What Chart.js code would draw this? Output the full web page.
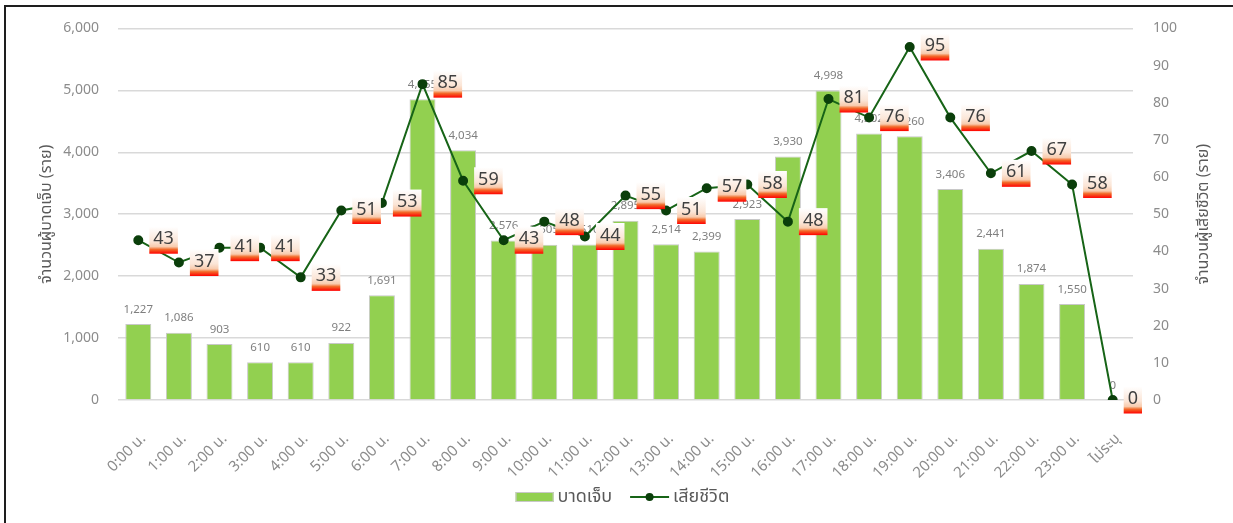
<!DOCTYPE html>
<html>
<head>
<meta charset="utf-8">
<script src="https://cdn.jsdelivr.net/npm/chart.js@4/dist/chart.umd.min.js"></script>
<style>
  html, body { margin: 0; padding: 0; background: #fff; overflow: hidden; }
  #frame { position: absolute; left: 4px; top: 5px; width: 1400px; height: 800px; border: 2px solid #1e1e1e; box-sizing: border-box; }
  #wrap { position: absolute; left: 0; top: 0; width: 1233px; height: 523px; }
</style>
</head>
<body>
<div id="frame"></div>
<div id="wrap"><canvas id="chart"></canvas></div>
<script>
const hours = [
  "0:00 น.", "1:00 น.", "2:00 น.", "3:00 น.", "4:00 น.", "5:00 น.", "6:00 น.", "7:00 น.",
  "8:00 น.", "9:00 น.", "10:00 น.", "11:00 น.", "12:00 น.", "13:00 น.", "14:00 น.", "15:00 น.",
  "16:00 น.", "17:00 น.", "18:00 น.", "19:00 น.", "20:00 น.", "21:00 น.", "22:00 น.", "23:00 น.", "ไม่ระบุ"
];
const injured = [1227, 1086, 903, 610, 610, 922, 1691, 4855, 4034, 2576, 2505, 2510, 2895, 2514, 2399, 2923, 3930, 4998, 4302, 4260, 3406, 2441, 1874, 1550, 0];
const deaths = [43, 37, 41, 41, 33, 51, 53, 85, 59, 43, 48, 44, 55, 51, 57, 58, 48, 81, 76, 95, 76, 61, 67, 58, 0];

const injuredName = "บาดเจ็บ";
const deathsName = "เสียชีวิต";
const leftTitle = "จำนวนผู้บาดเจ็บ (ราย)";
const rightTitle = "จำนวนผู้เสียชีวิต (ราย)";
const injuredMax = 6000, injuredStep = 1000;
const deathsMax = 100, deathsStep = 10;

const FONT = '"Noto Sans", "Noto Sans Thai", Tahoma, sans-serif';
const GRAY = "#8c8c8c";
const BAR_GREEN = "#92d050";
const LINE_GREEN = "#176417";
const POINT_GREEN = "#0b3f0b";

const fmt = (v) => v.toLocaleString("en-US");

// gray value labels above bars, drawn before the line
const barLabels = {
  id: "barLabels",
  afterDatasetDraw(chart, args) {
    if (args.index !== 0) return;
    const ctx = chart.ctx;
    ctx.save();
    ctx.font = "11.5px " + FONT;
    ctx.fillStyle = "#7f7f7f";
    ctx.textAlign = "center";
    ctx.textBaseline = "bottom";
    args.meta.data.forEach((bar, i) => {
      ctx.fillText(fmt(injured[i]), bar.x, bar.y - 9);
    });
    ctx.restore();
  }
};

// boxed labels to the right of each line point
const lineLabels = {
  id: "lineLabels",
  afterDatasetsDraw(chart) {
    const ctx = chart.ctx;
    const meta = chart.getDatasetMeta(1);
    ctx.save();
    ctx.font = "18px " + FONT;
    meta.data.forEach((pt, i) => {
      const txt = String(deaths[i]);
      const w = ctx.measureText(txt).width + 8;
      const h = 27;
      const x0 = pt.x + 11;
      const y0 = pt.y - h / 2;
      const g = ctx.createLinearGradient(0, y0, 0, y0 + h);
      g.addColorStop(0, "#ffffff");
      g.addColorStop(0.55, "#fbe5d6");
      g.addColorStop(0.74, "#f8cbad");
      g.addColorStop(0.84, "#f26b2a");
      g.addColorStop(1, "#ff0000");
      ctx.fillStyle = g;
      ctx.fillRect(x0, y0, w, h);
      ctx.fillStyle = "#404040";
      ctx.textAlign = "center";
      ctx.textBaseline = "middle";
      ctx.fillText(txt, x0 + w / 2, pt.y - 1);
    });
    ctx.restore();
  }
};

// right axis title reads bottom-to-top, like the left one
const rightAxisTitle = {
  id: "rightAxisTitle",
  afterDraw(chart) {
    const ctx = chart.ctx;
    const a = chart.chartArea;
    ctx.save();
    ctx.translate(1203, (a.top + a.bottom) / 2);
    ctx.rotate(-Math.PI / 2);
    ctx.font = "16px " + FONT;
    ctx.fillStyle = "#595959";
    ctx.textAlign = "center";
    ctx.textBaseline = "middle";
    ctx.fillText(rightTitle, 0, 0);
    ctx.restore();
  }
};

const legendDraw = {
  id: "legendDraw",
  afterDraw(chart) {
    const ctx = chart.ctx;
    const a = chart.chartArea;
    const y = 497;
    ctx.save();
    ctx.font = "18px " + FONT;
    const w1 = ctx.measureText(injuredName).width;
    const w2 = ctx.measureText(deathsName).width;
    const total = 38 + 4 + w1 + 18 + 39 + 4 + w2;
    let x = (a.left + a.right) / 2 - total / 2 - 3;
    ctx.fillStyle = BAR_GREEN;
    ctx.strokeStyle = "#c8c8c8";
    ctx.lineWidth = 1;
    ctx.fillRect(x, y - 5, 38, 10);
    ctx.strokeRect(x + 0.5, y - 4.5, 37, 9);
    x += 42;
    ctx.fillStyle = "#595959";
    ctx.textBaseline = "middle";
    ctx.textAlign = "left";
    ctx.fillText(injuredName, x, y);
    x += w1 + 18;
    ctx.strokeStyle = LINE_GREEN;
    ctx.lineWidth = 2;
    ctx.beginPath();
    ctx.moveTo(x, y);
    ctx.lineTo(x + 39, y);
    ctx.stroke();
    ctx.fillStyle = POINT_GREEN;
    ctx.beginPath();
    ctx.arc(x + 19.5, y, 4, 0, Math.PI * 2);
    ctx.fill();
    x += 43;
    ctx.fillStyle = "#595959";
    ctx.fillText(deathsName, x, y);
    ctx.restore();
  }
};

new Chart(document.getElementById("chart"), {
  data: {
    labels: hours,
    datasets: [
      {
        type: "bar",
        label: injuredName,
        data: injured,
        yAxisID: "y",
        order: 1,
        backgroundColor: BAR_GREEN,
        borderColor: "#c8c8c8",
        borderWidth: 1,
        barPercentage: 0.64,
        categoryPercentage: 1
      },
      {
        type: "line",
        label: deathsName,
        data: deaths,
        yAxisID: "y1",
        order: 0,
        borderColor: LINE_GREEN,
        borderWidth: 2,
        pointRadius: 4,
        pointBackgroundColor: POINT_GREEN,
        pointBorderColor: POINT_GREEN,
        tension: 0
      }
    ]
  },
  options: {
    responsive: true,
    maintainAspectRatio: false,
    animation: false,
    devicePixelRatio: 1,
    layout: { padding: { top: 21, left: 0, right: 0, bottom: 33 } },
    plugins: {
      legend: { display: false },
      tooltip: { enabled: false }
    },
    scales: {
      x: {
        grid: { display: false, drawTicks: false },
        border: { display: false },
        ticks: {
          color: GRAY,
          font: { family: FONT, size: 15 },
          minRotation: 45,
          maxRotation: 45,
          padding: 30,
          labelOffset: 5
        },
        afterFit(scale) { scale.height = 90; }
      },
      y: {
        position: "left",
        min: 0,
        max: injuredMax,
        border: { display: false },
        grid: { color: "#d9d9d9", lineWidth: 1.5, drawTicks: false },
        ticks: {
          stepSize: injuredStep,
          color: GRAY,
          padding: 19,
          font: { family: FONT, size: 14 },
          callback: (v) => fmt(v)
        },
        title: {
          display: true,
          text: leftTitle,
          color: "#595959",
          font: { family: FONT, size: 16 },
          padding: { top: 37 }
        },
        afterFit(scale) { scale.width = 118; }
      },
      y1: {
        position: "right",
        min: 0,
        max: deathsMax,
        border: { display: false },
        grid: { display: false, drawTicks: false },
        ticks: {
          stepSize: deathsStep,
          color: GRAY,
          padding: 20,
          font: { family: FONT, size: 14 }
        },
        afterFit(scale) { scale.width = 100; }
      }
    }
  },
  plugins: [barLabels, lineLabels, rightAxisTitle, legendDraw]
});
</script>
</body>
</html>
